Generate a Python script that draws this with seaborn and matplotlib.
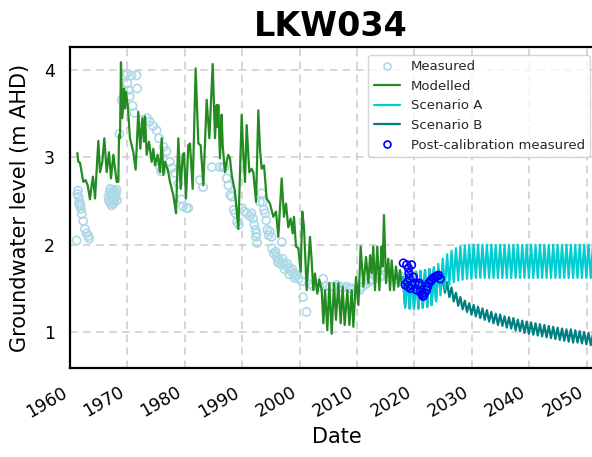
import numpy as np
import pandas as pd
import matplotlib
matplotlib.use("Agg")
import matplotlib.pyplot as plt
from matplotlib.lines import Line2D
import seaborn as sns

# ---- observed groundwater levels (m AHD) ----
meas_year = [
    1961.15, 1961.3, 1961.4, 1961.5, 1961.55, 1961.65, 1961.75, 1961.85, 1961.95, 1962.05,
    1962.3, 1962.6, 1962.9, 1963.2, 1963.35,
    1966.7, 1966.8, 1966.9, 1967.0, 1967.05, 1967.15, 1967.25, 1967.3, 1967.4, 1967.5,
    1967.55, 1967.6, 1967.7, 1967.8, 1967.9, 1968.0, 1968.1, 1968.2,
    1968.6, 1969.0, 1969.5, 1969.9, 1970.0, 1970.2, 1970.4, 1970.7, 1970.9, 1971.2,
    1971.6, 1971.7, 1972.5, 1973.4, 1973.9, 1974.5, 1975.1, 1975.5, 1975.7, 1975.9,
    1976.3, 1976.8, 1977.4, 1977.8, 1978.3, 1978.9, 1979.4, 1979.7, 1980.3, 1980.6,
    1982.6, 1983.2, 1984.7, 1986.1, 1986.6, 1986.9, 1987.3, 1987.6, 1987.9, 1988.2,
    1988.5, 1988.8, 1989.1, 1989.4, 1989.9, 1990.4, 1990.8, 1991.3, 1991.6, 1991.9,
    1992.1, 1992.3, 1992.4, 1992.6, 1992.5, 1993.1, 1993.4, 1993.6, 1993.8, 1994.0,
    1994.2, 1994.4, 1994.6, 1994.8, 1995.1, 1995.2, 1995.5, 1995.8, 1996.0, 1996.2,
    1996.4, 1996.7, 1996.9, 1997.0, 1997.2, 1997.4, 1997.6, 1997.9, 1998.0, 1998.2,
    1998.4, 1998.7, 1998.9, 1999.1, 1999.4, 1999.6, 1999.8, 2000.4, 2000.6, 2001.2,
    2001.7, 2002.3, 2002.9, 2003.5, 2004.1, 2004.6, 2005.3, 2005.9, 2006.5, 2007.0,
    2007.6, 2008.2, 2008.7, 2009.1, 2009.9, 2010.5, 2011.0, 2011.6, 2012.2, 2012.8,
    2013.4, 2014.0, 2014.6, 2015.2, 2015.8, 2016.4, 2017.0, 2017.5, 2018.0,
]
meas_level = [
    2.05, 2.58, 2.62, 2.55, 2.47, 2.50, 2.44, 2.46, 2.41, 2.35,
    2.27, 2.18, 2.13, 2.10, 2.07,
    2.55, 2.50, 2.60, 2.64, 2.48, 2.56, 2.45, 2.59, 2.52, 2.63,
    2.47, 2.57, 2.50, 2.61, 2.54, 2.59, 2.63, 2.51,
    3.27, 3.66, 3.94, 3.96, 3.85, 3.77, 3.70, 3.94, 3.59, 3.51,
    3.94, 3.79, 3.43, 3.45, 3.41, 3.36, 3.31, 3.22, 2.89, 2.84,
    3.12, 3.07, 2.95, 2.88, 2.82, 2.70, 2.52, 2.44, 2.42, 2.42,
    2.74, 2.66, 2.89, 2.89, 2.89, 2.89, 2.76, 2.68, 2.57, 2.55,
    2.40, 2.36, 2.26, 2.23, 2.42, 2.38, 2.36, 2.33, 2.36, 2.30,
    2.23, 2.17, 2.09, 2.02, 2.13, 2.49, 2.59, 2.49, 2.40, 2.36,
    2.28, 2.17, 2.11, 2.15, 2.09, 1.96, 1.90, 1.92, 1.86, 1.80,
    1.83, 1.78, 2.03, 1.84, 1.79, 1.72, 1.76, 1.78, 1.73, 1.66,
    1.70, 1.72, 1.67, 1.62, 1.64, 1.66, 1.61, 1.58, 1.40, 1.23,
    1.55, 1.53, 1.55, 1.52, 1.61, 1.53, 1.52, 1.52, 1.54, 1.52,
    1.51, 1.52, 1.50, 1.50, 1.46, 1.48, 1.52, 1.55, 1.58, 1.60,
    1.62, 1.63, 1.65, 1.68, 1.62, 1.66, 1.60, 1.64, 1.58,
]

# ---- calibrated model output ----
model_year = [
    1961.28, 1961.45, 1961.74, 1962.32, 1962.73, 1963.08, 1963.48, 1963.77, 1964.0, 1964.36,
    1964.94, 1965.23, 1965.63, 1965.98, 1966.39, 1966.79, 1967.14, 1967.55, 1967.84, 1968.13,
    1968.42, 1968.54, 1968.71, 1968.88, 1969.12, 1969.41, 1969.58, 1969.76, 1970.05, 1970.45,
    1971.03, 1971.44, 1971.9, 1972.25, 1972.6, 1972.89, 1973.07, 1973.36, 1973.76, 1974.23,
    1974.52, 1974.81, 1975.27, 1975.68, 1975.97, 1976.26, 1976.55, 1977.13, 1977.42, 1978.0,
    1978.47, 1978.87, 1979.28, 1979.63, 1979.86, 1980.21, 1980.61, 1980.9, 1981.37, 1981.89,
    1982.36, 1982.76, 1983.23, 1983.81, 1984.28, 1984.86, 1985.26, 1985.55, 1985.7, 1985.84,
    1986.13, 1986.42, 1986.6, 1987.0, 1987.29, 1987.58, 1987.87, 1988.17, 1988.75, 1989.33,
    1989.91, 1990.2, 1990.49, 1990.78, 1991.24, 1991.65, 1991.94, 1992.41, 1992.81, 1993.1,
    1993.39, 1993.8, 1994.26, 1994.84, 1995.42, 1995.89, 1996.29, 1996.88, 1997.28, 1997.63,
    1998.03, 1998.44, 1998.79, 1999.02, 1999.37, 1999.78, 2000.19, 2000.47, 2000.77, 2001.23,
    2001.81, 2002.1, 2002.39, 2002.68, 2003.09, 2003.44, 2003.85, 2004.14, 2004.43, 2004.83,
    2005.18, 2005.59, 2005.99, 2006.34, 2006.75, 2007.16, 2007.5, 2007.85, 2008.32, 2008.67,
    2009.07, 2009.36, 2009.83, 2010.24, 2010.64, 2011.11, 2011.57, 2011.98, 2012.28, 2012.55,
    2012.84, 2013.13, 2013.54, 2013.89, 2014.29, 2014.47, 2014.7, 2015.05, 2015.45, 2015.75,
    2016.04, 2016.44, 2016.79, 2017.2, 2017.49, 2017.78,
]
model_level = [
    3.05, 2.95, 2.94, 2.72, 2.74, 2.68, 2.52, 2.68, 2.78, 2.53,
    3.19, 2.83, 2.95, 3.22, 2.83, 3.06, 2.76, 3.03, 2.88, 2.72,
    2.72, 3.26, 3.22, 4.09, 3.45, 3.79, 3.56, 3.75, 3.60, 3.22,
    3.06, 2.86, 3.52, 3.10, 3.45, 3.18, 3.47, 3.03, 3.18, 2.95,
    3.10, 2.91, 3.03, 2.83, 3.22, 2.80, 2.95, 2.83, 2.72, 2.57,
    2.36, 3.22, 2.64, 3.03, 3.05, 2.53, 3.14, 3.16, 2.64, 4.02,
    3.16, 3.14, 2.68, 3.66, 3.22, 4.07, 3.22, 3.60, 3.35, 3.60,
    2.99, 3.49, 3.14, 2.83, 2.95, 3.03, 2.99, 2.80, 2.60, 2.18,
    3.49, 3.03, 2.72, 3.37, 2.83, 2.87, 2.83, 2.49, 3.54, 3.10,
    2.87, 2.91, 2.53, 2.47, 2.32, 2.38, 2.09, 2.76, 2.32, 2.47,
    2.20, 2.30, 2.13, 2.32, 1.98, 1.96, 1.69, 2.38, 2.20, 1.48,
    2.09, 1.82, 1.48, 1.67, 1.44, 1.60, 1.48, 1.10, 1.48, 1.02,
    1.56, 0.98, 1.56, 1.14, 1.56, 1.10, 1.52, 1.08, 1.48, 1.08,
    1.48, 1.06, 1.63, 1.31, 1.98, 1.52, 1.86, 1.56, 1.88, 1.67,
    1.98, 1.48, 1.98, 1.48, 1.98, 1.75, 2.34, 1.56, 1.84, 1.48,
    1.82, 1.48, 1.75, 1.52, 1.71, 1.56,
]

# ---- predictive scenarios: seasonal highs and lows ----
scen_start = 2018.0
scen_cycle = 0.77  # years per seasonal cycle in the predictive run

scen_a_high = [
    1.63, 1.66, 1.68, 1.69, 1.70, 1.71, 1.72, 1.74, 1.78, 1.84,
    1.89, 1.93, 1.96, 1.98, 1.99, 2.00, 2.00, 2.00, 2.00, 2.00,
    2.00, 2.00, 2.00, 2.00, 2.00, 2.00, 2.00, 2.00, 2.00, 2.00,
    2.00, 2.00, 2.00, 2.00, 2.00, 2.00, 2.00, 2.00, 2.00, 2.00,
    2.00, 2.00, 2.00, 2.00, 2.00,
]
scen_a_low = [
    1.28, 1.27, 1.27, 1.27, 1.28, 1.29, 1.31, 1.35, 1.42, 1.49,
    1.54, 1.57, 1.59, 1.60, 1.61, 1.61, 1.62, 1.62, 1.62, 1.62,
    1.62, 1.62, 1.62, 1.62, 1.62, 1.62, 1.62, 1.62, 1.62, 1.62,
    1.62, 1.62, 1.62, 1.62, 1.62, 1.62, 1.62, 1.62, 1.62, 1.62,
    1.62, 1.62, 1.62, 1.62,
]
scen_b_high = [
    1.63, 1.66, 1.68, 1.69, 1.70, 1.71, 1.72, 1.74, 1.72, 1.64,
    1.57, 1.51, 1.45, 1.40, 1.36, 1.33, 1.31, 1.29, 1.27, 1.25,
    1.23, 1.21, 1.20, 1.18, 1.17, 1.16, 1.14, 1.13, 1.12, 1.11,
    1.10, 1.09, 1.08, 1.07, 1.06, 1.05, 1.04, 1.03, 1.03, 1.02,
    1.01, 1.00, 0.99, 0.98, 0.98,
]
scen_b_low = [
    1.28, 1.27, 1.27, 1.27, 1.28, 1.29, 1.31, 1.36, 1.48, 1.45,
    1.40, 1.35, 1.30, 1.26, 1.23, 1.20, 1.18, 1.16, 1.14, 1.12,
    1.10, 1.08, 1.07, 1.05, 1.04, 1.02, 1.01, 0.99, 0.98, 0.97,
    0.96, 0.95, 0.94, 0.93, 0.92, 0.91, 0.90, 0.89, 0.88, 0.88,
    0.87, 0.86, 0.85, 0.85,
]

# ---- post-calibration observations ----
post_year = [
    2018.07, 2018.4, 2018.66, 2018.8, 2018.95, 2019.1, 2019.05, 2018.9, 2019.3, 2019.5,
    2019.5, 2019.8, 2020.1, 2020.4, 2020.7, 2020.85, 2021.0, 2021.3, 2021.5, 2021.6,
    2021.8, 2022.1, 2022.3, 2022.5, 2022.8, 2023.0, 2023.3, 2023.6, 2023.9, 2024.2,
    2024.5,
]
post_level = [
    1.79, 1.54, 1.77, 1.57, 1.73, 1.62, 1.67, 1.52, 1.50, 1.54,
    1.77, 1.63, 1.56, 1.48, 1.54, 1.56, 1.46, 1.44, 1.41, 1.42,
    1.45, 1.48, 1.52, 1.56, 1.58, 1.60, 1.62, 1.63, 1.64, 1.65,
    1.61,
]

YEAR_TICKS = [1960, 1970, 1980, 1990, 2000, 2010, 2020, 2030, 2040, 2050]
LEVEL_TICKS = [1, 2, 3, 4]


def seasonal_series(highs, lows):
    """Interleave seasonal highs and lows on the predictive time axis."""
    t, v = [], []
    for k, hi in enumerate(highs):
        t.append(scen_start + k * scen_cycle)
        v.append(hi)
        if k < len(lows):
            t.append(scen_start + (k + 0.5) * scen_cycle)
            v.append(lows[k])
    return pd.DataFrame({"year": t, "level": v})


measured = pd.DataFrame({"year": meas_year, "level": meas_level})
modelled = pd.DataFrame({"year": model_year, "level": model_level})
scen_a = seasonal_series(scen_a_high, scen_a_low)
scen_b = seasonal_series(scen_b_high, scen_b_low)
post = pd.DataFrame({"year": post_year, "level": post_level})

sns.set_theme(style="white")
plt.rcParams["font.family"] = ["DejaVu Sans"]

fig = plt.figure(figsize=(5.92, 4.57), dpi=100)
# the plotting area runs past the right edge of the canvas
ax = fig.add_axes([70 / 592, 89 / 457, 534 / 592, 321 / 457])

c_meas = "lightblue"
c_model = "forestgreen"
c_a = "darkturquoise"
c_b = "teal"
c_post = "blue"

sns.scatterplot(data=measured, x="year", y="level", ax=ax, marker="o", s=34,
                facecolor="none", edgecolor=c_meas, linewidth=1.2, zorder=2)
sns.lineplot(data=modelled, x="year", y="level", ax=ax, color=c_model, lw=1.6,
             estimator=None, sort=False, zorder=3)
sns.lineplot(data=scen_b, x="year", y="level", ax=ax, color=c_b, lw=1.6,
             estimator=None, sort=False, zorder=3)
sns.lineplot(data=scen_a, x="year", y="level", ax=ax, color=c_a, lw=1.6,
             estimator=None, sort=False, zorder=4)
sns.scatterplot(data=post, x="year", y="level", ax=ax, marker="o", s=30,
                facecolor="none", edgecolor=c_post, linewidth=1.2, zorder=5)

ax.set_xlim(1960, 1960 + 534 / 5.74)
ax.set_ylim(0.588, 4.265)
ax.set_xticks(YEAR_TICKS)
ax.set_xticklabels([str(y) for y in YEAR_TICKS], rotation=30, ha="right")
ax.set_yticks(LEVEL_TICKS)
ax.tick_params(axis="both", direction="out", length=8, width=1.5,
               color="black", labelsize=12.5, labelcolor="black", pad=3)
ax.grid(True, color="#cccccc", linestyle=(0, (5, 3.5)), linewidth=1.1)
for side in ("left", "bottom", "top", "right"):
    ax.spines[side].set_color("black")
    ax.spines[side].set_linewidth(1.6)

ax.set_xlabel("Date", fontsize=15, color="black", labelpad=4)
ax.set_ylabel("Groundwater level (m AHD)", fontsize=15, color="black",
              labelpad=10)
ax.set_title("LKW034", fontsize=24, fontweight="bold", color="black", pad=8,
             x=(331 - 70) / 534)

handles = [
    Line2D([], [], ls="", marker="o", ms=5, mfc="none", mec=c_meas, mew=1.2),
    Line2D([], [], color=c_model, lw=1.6),
    Line2D([], [], color=c_a, lw=1.6),
    Line2D([], [], color=c_b, lw=1.6),
    Line2D([], [], ls="", marker="o", ms=5, mfc="none", mec=c_post, mew=1.2),
]
labels = ["Measured", "Modelled", "Scenario A", "Scenario B",
          "Post-calibration measured"]
ax.legend(handles, labels, loc="upper right", fontsize=9.5,
          bbox_to_anchor=(590 / 592, (457 - 55) / 457),
          bbox_transform=fig.transFigure, borderaxespad=0, frameon=True,
          framealpha=0.8, edgecolor="#cccccc", fancybox=True)

fig.savefig("out.png", dpi=100)
